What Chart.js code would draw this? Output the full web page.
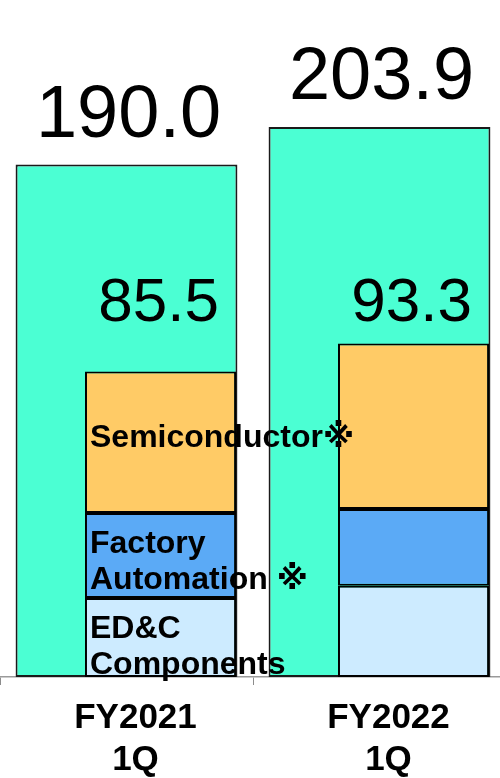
<!DOCTYPE html>
<html>
<head>
<meta charset="utf-8">
<script src="https://cdn.jsdelivr.net/npm/chart.js@4/dist/chart.umd.min.js"></script>
<style>
    html, body {margin: 0; padding: 0; background: #fff; overflow: hidden;}
    .chart_wrap {position: relative; width: 506px; height: 778px;}
</style>
</head>
<body>
<div class="chart_wrap"><canvas id="chartSales"></canvas></div>
<script>
// data
const categories = [['FY2021', '1Q'], ['FY2022', '1Q']];
const totalSales = [190.0, 203.9];
const edcValues = [22.1, 25.5];
const faValues = [23.8, 21.5];
const semiValues = [39.6, 46.3];
const segmentTotals = [85.5, 93.3];
const segmentNames = [['ED&C', 'Components'], ['Factory', 'Automation ※'], ['Semiconductor※']];

const fontFamily = '"Liberation Sans", Arial, "DejaVu Sans", sans-serif';

//plugin - labels
const valueLabels = {
    id: 'valueLabels',
    afterDatasetsDraw(chart) {
        const {ctx, chartArea} = chart;
        ctx.save();
        ctx.fillStyle = '#000';
        ctx.textAlign = 'center';
        ctx.textBaseline = 'alphabetic';

        // total sales above green bars
        ctx.font = '74px ' + fontFamily;
        chart.getDatasetMeta(0).data.forEach((bar, i) => {
            ctx.fillText(totalSales[i].toFixed(1), bar.x + 2, bar.y - 28);
        });

        // segment totals
        ctx.font = '62px ' + fontFamily;
        chart.getDatasetMeta(4).data.forEach((bar, i) => {
            ctx.fillText(segmentTotals[i].toFixed(1), bar.x - 2, chartArea.bottom - 356);
        });

        // segment names, on first bar only
        ctx.font = 'bold 32px ' + fontFamily;
        ctx.textAlign = 'left';
        ctx.textBaseline = 'middle';
        const nudge = [10, 7, -4];
        [2, 3, 4].forEach((dsIndex, k) => {
            const bar = chart.getDatasetMeta(dsIndex).data[0];
            const lines = segmentNames[k];
            const lh = 36;
            const left = bar.x - bar.width / 2 + 5;
            const mid = (bar.y + bar.base) / 2 + nudge[k];
            const startY = mid - (lines.length - 1) * lh / 2;
            lines.forEach((t, j) => ctx.fillText(t, left, startY + j * lh));
        });
        ctx.restore();
    }
};

const innerBar = {
    xAxisID: 'x2',
    yAxisID: 'y2',
    stack: 'seg',
    order: 1,
    categoryPercentage: 1.076,
    barPercentage: 2.22,
    borderColor: '#000',
    borderWidth: 2,
    borderSkipped: false
};

new Chart(document.getElementById('chartSales').getContext('2d'), {
    type: 'bar',
    data: {
        labels: categories,
        datasets: [
            {
                data: totalSales,
                backgroundColor: '#4bffd3',
                borderColor: '#1a1a1a',
                borderWidth: 2,
                borderSkipped: false,
                grouped: false,
                categoryPercentage: 1,
                barPercentage: 0.877,
                order: 2
            },
            {
                // empty slot, pushes the stacked bar to the right
                data: [0, 0],
                xAxisID: 'x2',
                yAxisID: 'y2',
                stack: 'pad',
                order: 1,
                backgroundColor: 'rgba(0,0,0,0)',
                borderWidth: 0
            },
            Object.assign({data: edcValues, backgroundColor: '#cdebff'}, innerBar),
            Object.assign({data: faValues, backgroundColor: '#5baaf6'}, innerBar),
            Object.assign({data: semiValues, backgroundColor: '#ffcb66'}, innerBar)
        ]
    },
    options: {
        animation: false,
        responsive: true,
        maintainAspectRatio: false,
        layout: {padding: 0},
        plugins: {
            legend: {display: false},
            tooltip: {enabled: false}
        },
        scales: {
            x: {
                grid: {
                    offset: true,
                    drawOnChartArea: false,
                    drawTicks: true,
                    tickLength: 8,
                    color: '#8c8c8c'
                },
                border: {display: true, color: '#9a9a9a', width: 1.5},
                ticks: {
                    padding: 12,
                    labelOffset: 9,
                    color: '#000',
                    font: {family: fontFamily, size: 35, weight: 'bold', lineHeight: 1.2}
                },
                afterFit(scale) {
                    scale.height = 101;
                }
            },
            x2: {
                type: 'category',
                display: false
            },
            y: {
                display: false,
                min: 0,
                max: 251
            },
            y2: {
                display: false,
                min: 0,
                max: 189.4
            }
        }
    },
    plugins: [valueLabels]
});
</script>
</body>
</html>
